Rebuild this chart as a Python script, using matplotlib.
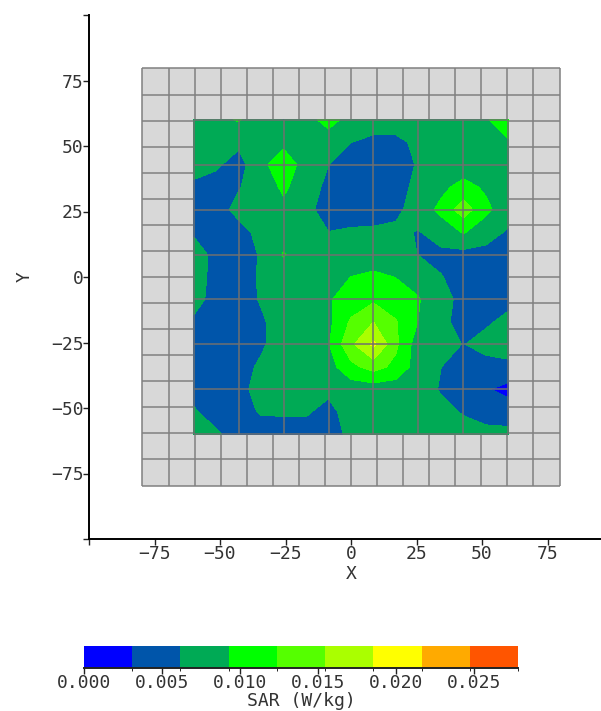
import numpy as np
import matplotlib
matplotlib.use('Agg')
import matplotlib.pyplot as plt
from matplotlib.colors import ListedColormap, BoundaryNorm

# SAR, in mW/kg, top row first
x_meas = [-60, -51.4, -42.9, -34.3, -25.7, -17.1, -8.6, 0, 8.6, 17.1, 25.7, 34.3, 42.9, 51.4, 60]
y_meas = [60, 51.4, 42.9, 34.3, 25.7, 17.1, 8.6, 0, -8.6, -17.1, -25.7, -34.3, -42.9, -51.4, -60]
sar = [
    [7.5, 8.5, 9.5, 7.5, 6.1, 8.0, 10.5, 8.0, 7.5, 7.5, 7.5, 7.5, 7.5, 9.0, 10.5],
    [7.5, 7.5, 6.8, 7.5, 8.5, 7.5, 7.5, 6.2, 5.5, 5.5, 6.8, 7.5, 7.5, 7.5, 9.0],
    [7.5, 6.6, 5.0, 8.5, 11.0, 8.0, 6.2, 5.5, 5.0, 5.0, 6.4, 7.5, 7.5, 7.5, 7.5],
    [5.5, 5.0, 6.0, 7.5, 9.8, 7.5, 5.5, 5.0, 5.0, 5.0, 7.0, 8.5, 10.3, 8.8, 7.5],
    [5.2, 5.0, 7.0, 7.5, 8.5, 6.6, 5.5, 5.0, 5.0, 5.5, 7.5, 10.0, 14.0, 10.0, 7.5],
    [5.8, 5.0, 5.2, 7.0, 7.5, 7.2, 6.2, 6.5, 6.6, 6.8, 6.0, 7.5, 9.5, 7.5, 5.8],
    [7.5, 5.3, 5.0, 6.4, 9.5, 7.5, 7.5, 7.5, 7.5, 7.5, 6.1, 5.5, 5.2, 5.2, 5.2],
    [7.4, 5.3, 5.0, 6.5, 7.5, 7.5, 8.0, 9.3, 9.9, 9.2, 8.0, 6.3, 5.2, 5.2, 5.2],
    [7.0, 5.3, 5.0, 6.4, 7.5, 7.8, 9.0, 10.5, 11.8, 10.5, 9.5, 7.0, 5.5, 5.5, 5.5],
    [5.8, 5.0, 5.0, 5.8, 7.5, 7.8, 8.5, 12.8, 15.4, 12.6, 9.2, 6.8, 5.3, 5.8, 6.8],
    [5.2, 5.0, 5.0, 5.8, 7.5, 7.5, 9.0, 14.8, 19.2, 13.0, 7.5, 7.0, 6.1, 7.0, 7.5],
    [5.2, 5.0, 5.2, 6.6, 7.5, 7.5, 8.0, 11.5, 13.6, 11.5, 7.8, 6.2, 5.3, 5.3, 5.5],
    [5.5, 5.2, 5.5, 7.0, 7.2, 7.2, 6.8, 7.5, 7.5, 7.5, 7.2, 6.0, 5.0, 3.4, 2.0],
    [6.4, 5.2, 5.3, 6.4, 6.5, 6.5, 5.3, 7.5, 7.0, 7.0, 7.0, 6.8, 6.0, 5.3, 5.0],
    [7.5, 6.5, 5.2, 5.0, 5.0, 5.0, 5.0, 6.8, 7.2, 7.2, 7.2, 7.2, 7.0, 6.8, 6.8],
]

band_colors = ['#0000FF', '#0055AA', '#00AA55', '#00FF00', '#55FF00',
               '#AAFF00', '#FFFF00', '#FFAA00', '#FF5500']
band_edges = [0.0, 3.09, 6.18, 9.27, 12.36, 15.44, 18.53, 21.62, 24.71, 27.8]
cbar_ticks = [0.0, 5.0, 10.0, 15.0, 20.0, 25.0]
cbar_labels = ['0.000', '0.005', '0.010', '0.015', '0.020', '0.025']
axis_ticks = [-100, -75, -50, -25, 0, 25, 50, 75, 100]
axis_labels = ['', '\u221275', '\u221250', '\u221225', '0', '25', '50', '75', '']

W, H = 601, 711
FS = 13
GRID = '#808080'
TEXT = '#333333'
plt.rcParams['font.family'] = 'DejaVu Sans Mono'

fig = plt.figure(figsize=(W / 100, H / 100), dpi=100)
ax = fig.add_axes([89 / W, 1 - 539 / H, 524 / W, 524 / H])
ax.set_xlim(-100, 100)
ax.set_ylim(-100, 100)

# phantom outline, 16 x 16 cells
outer = np.linspace(-79.6, 79.6, 17)
ax.fill_between([outer[0], outer[-1]], outer[0], outer[-1], color='#D8D8D8', lw=0, zorder=1)
ax.vlines(outer, outer[0], outer[-1], color=GRID, lw=1.1, zorder=2)
ax.hlines(outer, outer[0], outer[-1], color=GRID, lw=1.1, zorder=2)

cmap = ListedColormap(band_colors)
norm = BoundaryNorm(band_edges, cmap.N)
cs = ax.contourf(x_meas, y_meas, np.array(sar), levels=band_edges, cmap=cmap, norm=norm, zorder=3)

# measurement grid on top of the map
inner = np.linspace(-60, 60, 8)
ax.vlines(inner, -60, 60, color='#707070', lw=1.1, zorder=4)
ax.hlines(inner, -60, 60, color='#707070', lw=1.1, zorder=4)

for s in ['top', 'right']:
    ax.spines[s].set_visible(False)
ax.spines['left'].set_linewidth(1.4)
ax.spines['bottom'].set_linewidth(1.4)
ax.set_xticks(axis_ticks)
ax.set_xticklabels(axis_labels, fontsize=FS, color=TEXT)
ax.set_yticks(axis_ticks)
ax.set_yticklabels(axis_labels, fontsize=FS, color=TEXT)
ax.tick_params(length=4, width=1, pad=0, color='#222222')
ax.set_xlabel('X', fontsize=FS, labelpad=2, color=TEXT)
ax.set_ylabel('Y', fontsize=FS, rotation=90, labelpad=12, color=TEXT)

cax = fig.add_axes([84 / W, 1 - 668 / H, 434 / W, 22 / H])
cb = fig.colorbar(cs, cax=cax, orientation='horizontal', ticks=cbar_ticks)
cb.ax.set_xticklabels(cbar_labels, fontsize=FS, color=TEXT)
cb.ax.tick_params(length=4, width=1, pad=0, color='#222222')
cb.outline.set_visible(False)
cb.ax.plot([0, 1], [0, 0], color='#222222', lw=1.4, transform=cb.ax.transAxes, clip_on=False)
cb.set_label('SAR (W/kg)', fontsize=FS, labelpad=0, color=TEXT)

fig.savefig('out.png', dpi=100)
